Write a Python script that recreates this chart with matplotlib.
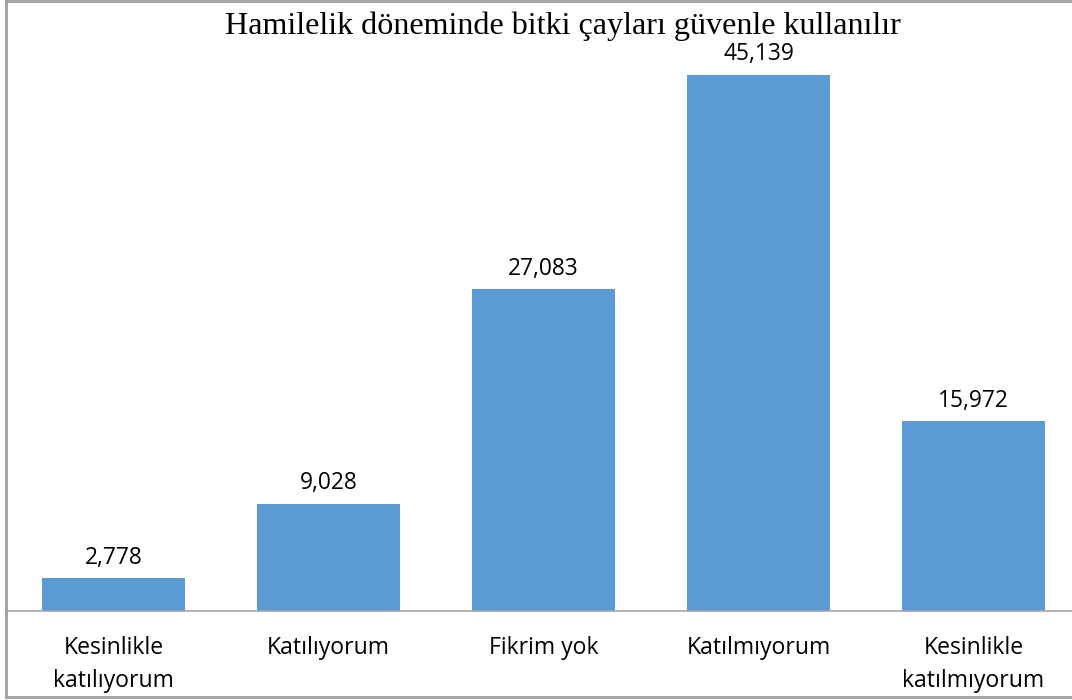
import matplotlib
matplotlib.use('Agg')
import matplotlib.pyplot as plt
from matplotlib.lines import Line2D

# data
categories = ['Kesinlikle\nkatılıyorum', 'Katılıyorum', 'Fikrim yok',
              'Katılmıyorum', 'Kesinlikle\nkatılmıyorum']
values = [2.778, 9.028, 27.083, 45.139, 15.972]
value_labels = ['2,778', '9,028', '27,083', '45,139', '15,972']
title = 'Hamilelik döneminde bitki çayları güvenle kullanılır'

bar_color = '#5B9BD5'
border_color = '#a0a0a0'

fig = plt.figure(figsize=(10.72, 7.0), dpi=100)
fig.patch.set_facecolor('white')

# plot area runs a little past the right edge of the picture
ax = fig.add_axes([6 / 1072, 89 / 700, 1075 / 1072, 594 / 700])
x = range(len(categories))
bars = ax.bar(x, values, width=143 / 215, color=bar_color)

ax.set_xlim(-0.5, len(categories) - 0.5)
ax.set_ylim(0, 50)
ax.set_yticks([])
for side in ['left', 'right', 'top']:
    ax.spines[side].set_visible(False)
ax.spines['bottom'].set_color('#a6a6a6')
ax.spines['bottom'].set_linewidth(1.2)

ax.set_xticks(list(x))
ax.set_xticklabels(categories, fontsize=16.6, family='Open Sans', color='#000000')
ax.tick_params(axis='x', length=0, pad=18)
for lab in ax.get_xticklabels():
    lab.set_linespacing(1.5)

for b, txt in zip(bars, value_labels):
    ax.annotate(txt, (b.get_x() + b.get_width() / 2, b.get_height()),
                xytext=(0, 6), textcoords='offset points',
                ha='center', va='bottom', fontsize=16.4, family='Open Sans')

fig.text(563 / 1072, 1 - 26 / 700, title, ha='center', va='center',
         fontsize=23.1, family='Liberation Serif')

# outer chart border (left, top, bottom)
fig.add_artist(Line2D([6 / 1072, 6 / 1072], [0.004, 0.998], transform=fig.transFigure,
                      color=border_color, lw=2))
fig.add_artist(Line2D([6 / 1072, 1], [0.998, 0.998], transform=fig.transFigure,
                      color=border_color, lw=2))
fig.add_artist(Line2D([6 / 1072, 1], [0.004, 0.004], transform=fig.transFigure,
                      color=border_color, lw=2))

fig.savefig('out.png', dpi=100)
